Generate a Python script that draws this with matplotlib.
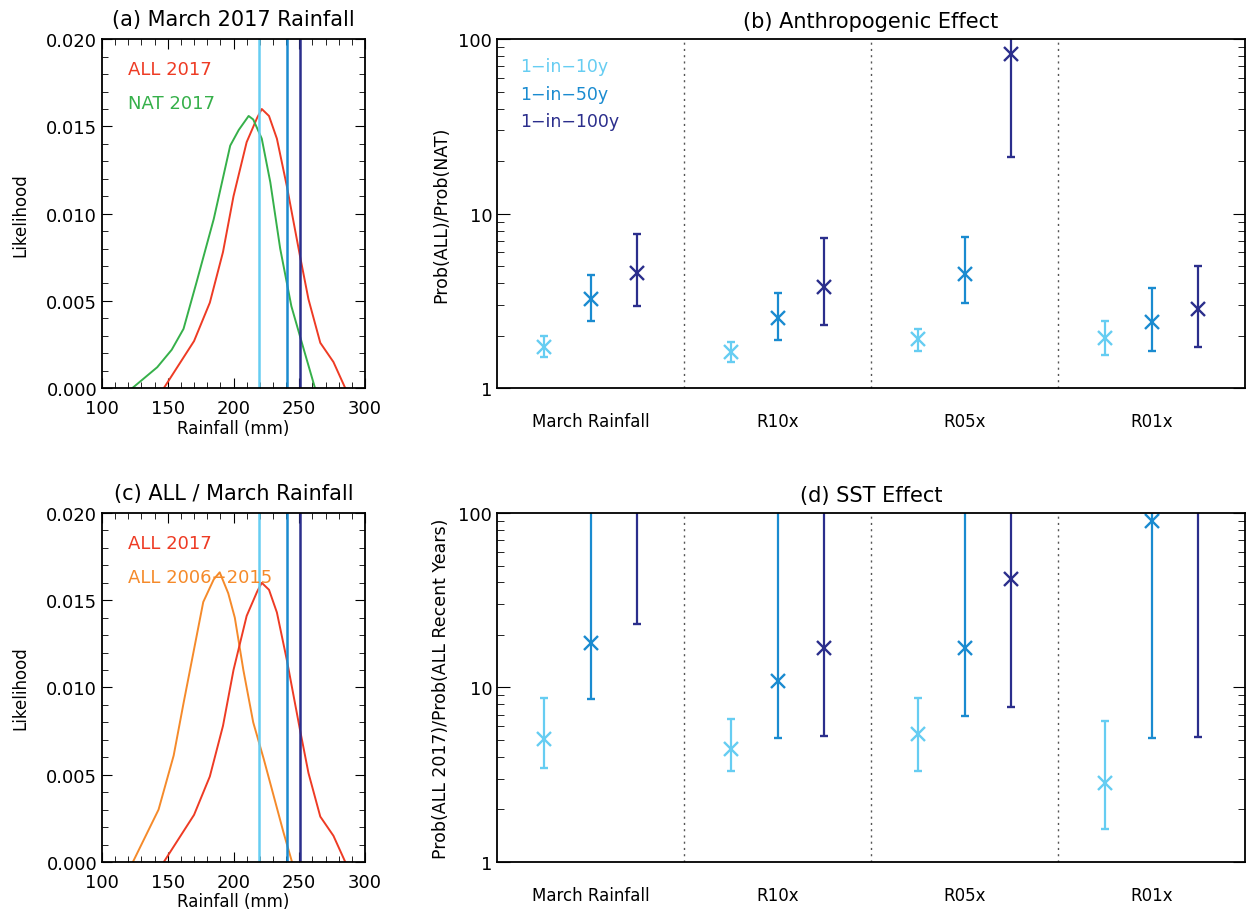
import numpy as np
from matplotlib import pyplot as plt
from matplotlib.ticker import MultipleLocator, LogLocator, NullFormatter, FixedLocator, FixedFormatter

# pdf curves (rainfall in mm, likelihood)
all17_x = [147, 170, 182, 192, 200, 210, 218, 221.5, 227, 233, 240.5, 250.5, 257, 266, 276, 285]
all17_y = [0.0, 0.0027, 0.0049, 0.0078, 0.0110, 0.0141, 0.0155, 0.0160, 0.0156, 0.0143, 0.0116, 0.0076, 0.0051, 0.0026, 0.0015, 0.0]
nat17_x = [123, 142, 153, 162, 172, 185, 197.5, 204, 211.5, 215, 221.5, 228, 235.5, 244, 252, 262]
nat17_y = [0.0, 0.0012, 0.0022, 0.0034, 0.0061, 0.0097, 0.0139, 0.0148, 0.0156, 0.0154, 0.0143, 0.0118, 0.0080, 0.0047, 0.0026, 0.0]
rec_x = [123.5, 143, 154.5, 162, 169.5, 177, 185, 189.5, 196, 201, 207.5, 215, 223, 230.5, 238, 244.5]
rec_y = [0.0, 0.0030, 0.0061, 0.0091, 0.0120, 0.0149, 0.0162, 0.0166, 0.0154, 0.0140, 0.0110, 0.0080, 0.0059, 0.0038, 0.0017, 0.0]
thresholds = [219.5, 241, 250.5]

regions = ["March Rainfall", "R10x", "R05x", "R01x"]
return_labels = ["1-in-10y", "1-in-50y", "1-in-100y"]

# (b) Prob(ALL)/Prob(NAT): best, low, high per return period
anth_best = [[1.72, 1.61, 1.92, 1.94], [3.25, 2.52, 4.53, 2.39], [4.59, 3.80, 82.7, 2.85]]
anth_lo = [[1.51, 1.41, 1.64, 1.55], [2.42, 1.88, 3.07, 1.63], [2.97, 2.31, 21.0, 1.73]]
anth_hi = [[2.00, 1.84, 2.17, 2.42], [4.43, 3.52, 7.31, 3.73], [7.61, 7.28, 400.0, 5.01]]

# (d) Prob(ALL 2017)/Prob(ALL recent years)
sst_best = [[5.07, 4.44, 5.41, 2.84], [18.1, 10.9, 16.9, 90.0], [200.0, 16.9, 41.6, 200.0]]
sst_lo = [[3.44, 3.34, 3.31, 1.55], [8.58, 5.15, 6.89, 5.15], [23.2, 5.25, 7.69, 5.2]]
sst_hi = [[8.65, 6.59, 8.65, 6.45], [400.0, 400.0, 400.0, 400.0], [400.0, 400.0, 400.0, 400.0]]

c_red = "#ee3b24"
c_green = "#36b04a"
c_orange = "#f58a2a"
c_rp = ["#66cdf2", "#1a8bd0", "#2b2e8c"]

plt.rcParams["font.family"] = "DejaVu Sans"
fig = plt.figure(figsize=(12.47, 9.2), dpi=100)

ax_a = fig.add_axes([0.0818, 0.577, 0.2109, 0.3793])
ax_c = fig.add_axes([0.0818, 0.062, 0.2109, 0.3793])
ax_b = fig.add_axes([0.3986, 0.577, 0.5998, 0.3793])
ax_d = fig.add_axes([0.3986, 0.062, 0.5998, 0.3793])


def pdf_panel(ax, title, curves):
    for x, y, c in curves:
        ax.plot(x, y, color=c, lw=1.4)
    for t, c in zip(thresholds, c_rp):
        ax.axvline(t, color=c, lw=1.8)
    ax.set_xlim(100, 300)
    ax.set_ylim(0, 0.02)
    ax.xaxis.set_major_locator(MultipleLocator(50))
    ax.xaxis.set_minor_locator(MultipleLocator(10))
    ax.yaxis.set_major_locator(MultipleLocator(0.005))
    ax.yaxis.set_minor_locator(MultipleLocator(0.001))
    ax.yaxis.set_major_formatter(plt.FormatStrFormatter("%.3f"))
    ax.tick_params(which="both", direction="in", top=True, right=True, labelsize=13)
    ax.tick_params(which="major", length=7)
    ax.tick_params(which="minor", length=4)
    ax.tick_params(axis="x", pad=8)
    ax.set_xlabel("Rainfall (mm)", fontsize=12, labelpad=1)
    ax.set_ylabel("Likelihood", fontsize=12, labelpad=12)
    ax.set_title(title, fontsize=15, pad=10)
    for s in ax.spines.values():
        s.set_linewidth(1.3)


def ratio_panel(ax, title, ylabel, best, lo, hi):
    for k in range(3):
        xs = np.arange(4) + 0.25 * (k + 1)
        b = np.array(best[k])
        yerr = [b - np.array(lo[k]), np.array(hi[k]) - b]
        ax.errorbar(xs, b, yerr=yerr, fmt="x", color=c_rp[k], ms=10, mew=1.7,
                    elinewidth=1.6, capsize=3, capthick=1.6)
    for d in [1, 2, 3]:
        ax.axvline(d, color="#555555", lw=1.0, ls=(0, (1.5, 3)))
    ax.set_yscale("log")
    ax.set_ylim(1, 100)
    ax.set_xlim(0, 4)
    ax.yaxis.set_major_locator(FixedLocator([1, 10, 100]))
    ax.yaxis.set_major_formatter(FixedFormatter(["1", "10", "100"]))
    ax.yaxis.set_minor_locator(LogLocator(base=10, subs=np.arange(2, 10)))
    ax.yaxis.set_minor_formatter(NullFormatter())
    ax.set_xticks([0.5, 1.5, 2.5, 3.5])
    ax.set_xticklabels(regions)
    ax.tick_params(axis="x", length=0, pad=17, labelsize=12)
    ax.tick_params(axis="y", which="both", direction="in", right=True, labelsize=13)
    ax.tick_params(axis="y", which="major", length=9)
    ax.tick_params(axis="y", which="minor", length=5)
    ax.set_ylabel(ylabel, fontsize=12.5, labelpad=6)
    ax.set_title(title, fontsize=15, pad=9)
    for s in ax.spines.values():
        s.set_linewidth(1.3)


pdf_panel(ax_a, "(a) March 2017 Rainfall", [(all17_x, all17_y, c_red), (nat17_x, nat17_y, c_green)])
ax_a.text(0.099, 0.914, "ALL 2017", color=c_red, fontsize=13, transform=ax_a.transAxes, va="center")
ax_a.text(0.099, 0.817, "NAT 2017", color=c_green, fontsize=13, transform=ax_a.transAxes, va="center")

pdf_panel(ax_c, "(c) ALL / March Rainfall", [(rec_x, rec_y, c_orange), (all17_x, all17_y, c_red)])
ax_c.text(0.099, 0.914, "ALL 2017", color=c_red, fontsize=13, transform=ax_c.transAxes, va="center")
ax_c.text(0.099, 0.817, "ALL 2006\u22122015", color=c_orange, fontsize=13, transform=ax_c.transAxes, va="center")

ratio_panel(ax_b, "(b) Anthropogenic Effect", "Prob(ALL)/Prob(NAT)", anth_best, anth_lo, anth_hi)
for k, lab in enumerate(return_labels):
    ax_b.text(0.031, 0.923 - 0.079 * k, lab.replace("-", "\u2212"), color=c_rp[k], fontsize=12.5,
              transform=ax_b.transAxes, va="center")

ratio_panel(ax_d, "(d) SST Effect", "Prob(ALL 2017)/Prob(ALL Recent Years)", sst_best, sst_lo, sst_hi)

fig.savefig("out.png", dpi=100)
